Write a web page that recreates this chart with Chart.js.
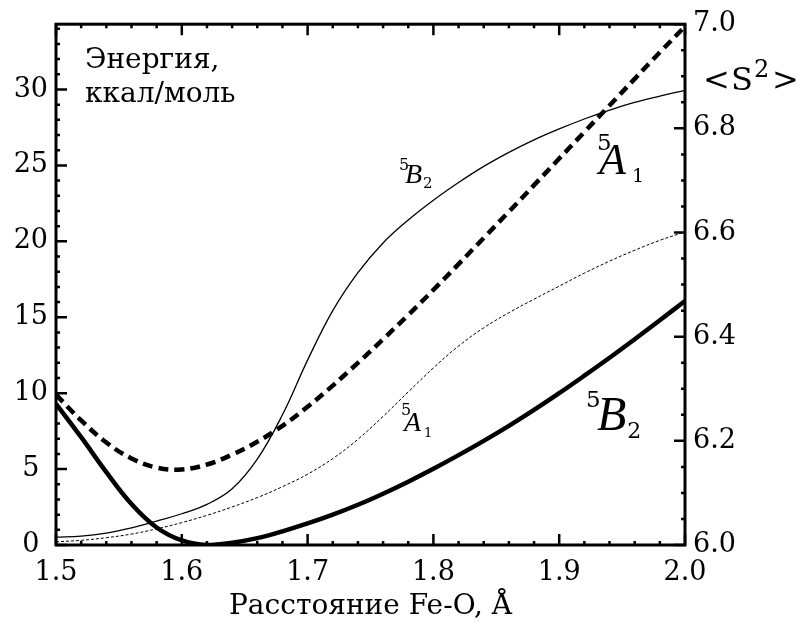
<!DOCTYPE html>
<html>
<head>
<meta charset="utf-8">
<script src="https://cdn.jsdelivr.net/npm/chart.js@4.4.1/dist/chart.umd.min.js"></script>
<style>
  html, body { margin: 0; padding: 0; background: #fff; }
  #wrap { width: 801px; height: 625px; }
</style>
</head>
<body>
<div id="wrap"><canvas id="chart" width="801" height="625"></canvas></div>
<script>
// Расстояние Fe-O, Å
const distance = [1.50, 1.52, 1.54, 1.56, 1.58, 1.60, 1.62, 1.64, 1.66, 1.68, 1.70, 1.72, 1.74,
                  1.76, 1.78, 1.80, 1.82, 1.84, 1.86, 1.88, 1.90, 1.92, 1.94, 1.96, 1.98, 2.00];

// энергия, ккал/моль (левая ось)
const energy5B2 = [9.3, 7.1, 4.8, 2.7, 1.15, 0.3, 0.0, 0.15, 0.45, 0.9, 1.42, 2.0, 2.65,
                   3.38, 4.17, 5.02, 5.92, 6.86, 7.85, 8.9, 10.0, 11.15, 12.33, 13.55, 14.8, 16.07];
const energy5A1 = [9.9, 8.2, 6.75, 5.7, 5.1, 4.98, 5.3, 5.95, 6.8, 7.85, 9.1, 10.5, 12.0,
                   13.55, 15.15, 16.8, 18.5, 20.22, 21.95, 23.7, 25.45, 27.2, 28.95, 30.7, 32.45, 34.15];

// <S^2> (правая ось)
const spin5B2 = [6.015, 6.017, 6.023, 6.033, 6.046, 6.060, 6.078, 6.108, 6.165, 6.250, 6.355, 6.450, 6.523,
                 6.580, 6.624, 6.662, 6.696, 6.727, 6.754, 6.778, 6.799, 6.818, 6.835, 6.850, 6.862, 6.873];
const spin5A1 = [6.006, 6.009, 6.014, 6.021, 6.031, 6.043, 6.057, 6.073, 6.091, 6.112, 6.136, 6.166, 6.203,
                 6.247, 6.294, 6.340, 6.382, 6.417, 6.446, 6.472, 6.497, 6.522, 6.545, 6.566, 6.585, 6.601];

const distTicks = [1.5, 1.6, 1.7, 1.8, 1.9, 2.0];
const energyTicks = [0, 5, 10, 15, 20, 25, 30];
const spinTicks = [6.0, 6.2, 6.4, 6.6, 6.8, 7.0];

const tickFont = { family: 'DejaVu Serif', size: 27 };
const toPoints = ys => distance.map((x, i) => ({ x: x, y: ys[i] }));

// рамка, засечки внутрь и подписи
const framePlugin = {
  id: 'frame',
  afterDatasetsDraw(chart) {
    const ctx = chart.ctx;
    const a = chart.chartArea;
    const sx = chart.scales.x, sE = chart.scales.yE, sS = chart.scales.yS;
    ctx.save();
    ctx.strokeStyle = '#000';
    ctx.lineWidth = 2.5;
    ctx.beginPath();
    for (let i = 0; i <= 25; i++) {
      const px = sx.getPixelForValue(1.5 + i * 0.02);
      const len = i % 5 === 0 ? 11 : 4;
      ctx.moveTo(px, a.bottom); ctx.lineTo(px, a.bottom - len);
      ctx.moveTo(px, a.top); ctx.lineTo(px, a.top + len);
    }
    for (let v = 0; v <= 34; v++) {
      const py = sE.getPixelForValue(v);
      const len = v % 5 === 0 ? 11 : 4;
      ctx.moveTo(a.left, py); ctx.lineTo(a.left + len, py);
    }
    for (let i = 0; i <= 20; i++) {
      const py = sS.getPixelForValue(6 + i * 0.05);
      const len = i % 4 === 0 ? 11 : 4;
      ctx.moveTo(a.right, py); ctx.lineTo(a.right - len, py);
    }
    ctx.stroke();
    ctx.lineWidth = 3;
    ctx.strokeRect(a.left, a.top, a.right - a.left, a.bottom - a.top);

    ctx.fillStyle = '#000';
    ctx.textBaseline = 'alphabetic';
    ctx.textAlign = 'left';
    ctx.font = '28px "DejaVu Serif"';
    ctx.fillText('Энергия,', 85, 68);
    ctx.fillText('ккал/моль', 85, 102);

    // <S²>
    ctx.font = '32px "DejaVu Serif"';
    ctx.fillText('<', 703, 90);
    ctx.fillText('S', 731, 90);
    ctx.font = '24px "DejaVu Serif"';
    ctx.fillText('2', 754, 77);
    ctx.font = '32px "DejaVu Serif"';
    ctx.fillText('>', 772, 90);

    const term = (x5, y5, s5, xL, yL, sL, letter, ys, ss, sub, gap) => {
      ctx.font = s5 + 'px "DejaVu Serif"';
      ctx.fillText('5', x5, y5);
      ctx.font = 'italic ' + sL + 'px "Liberation Serif"';
      ctx.fillText(letter, xL, yL);
      const w = ctx.measureText(letter).width;
      ctx.font = ss + 'px "DejaVu Serif"';
      ctx.fillText(sub, xL + w + gap, ys);
    };
    term(597, 150, 23, 599, 174, 44, 'A', 182, 19, '1', 6);
    term(586, 407, 23, 597, 430, 48, 'B', 438, 22, '2', 1);
    term(399, 170, 16, 405, 183, 28, 'B', 188, 15, '2', 1);
    term(401, 415, 16, 404, 431, 28, 'A', 437, 13, '1', 3);
    ctx.restore();
  }
};

new Chart(document.getElementById('chart').getContext('2d'), {
  type: 'line',
  data: {
    datasets: [
      { label: '5B2 энергия', data: toPoints(energy5B2), yAxisID: 'yE',
        borderColor: '#000', borderWidth: 4.5, pointRadius: 0, tension: 0.4 },
      { label: '5A1 энергия', data: toPoints(energy5A1), yAxisID: 'yE',
        borderColor: '#000', borderWidth: 4.5, borderDash: [10, 6], pointRadius: 0, tension: 0.4 },
      { label: '5B2 <S2>', data: toPoints(spin5B2), yAxisID: 'yS',
        borderColor: '#000', borderWidth: 1.3, pointRadius: 0, tension: 0.4 },
      { label: '5A1 <S2>', data: toPoints(spin5A1), yAxisID: 'yS',
        borderColor: '#000', borderWidth: 1, borderDash: [3, 2], pointRadius: 0, tension: 0.4 }
    ]
  },
  options: {
    responsive: false,
    animation: false,
    layout: { padding: { top: 22, left: 0, right: 0, bottom: 0 } },
    plugins: { legend: { display: false }, tooltip: { enabled: false } },
    scales: {
      x: {
        type: 'linear', position: 'bottom', min: 1.5, max: 2.0,
        grid: { display: false, drawTicks: false }, border: { display: false },
        afterBuildTicks: s => { s.ticks = distTicks.map(v => ({ value: v })); },
        afterFit: s => { s.height = 80; },
        ticks: { font: tickFont, color: '#000', padding: 12, autoSkip: false, maxRotation: 0,
                 callback: v => Number(v).toFixed(1) },
        title: { display: true, text: 'Расстояние Fe-O, Å', color: '#000',
                 font: { family: 'DejaVu Serif', size: 28 }, padding: { top: 0, bottom: 1 } }
      },
      yE: {
        type: 'linear', position: 'left', min: 0, max: 34.3,
        grid: { display: false, drawTicks: false }, border: { display: false },
        afterBuildTicks: s => { s.ticks = energyTicks.map(v => ({ value: v })); },
        afterFit: s => { s.width = 56; },
        ticks: { font: tickFont, color: '#000', padding: 8, crossAlign: 'center' }
      },
      yS: {
        type: 'linear', position: 'right', min: 6.0, max: 7.0,
        grid: { display: false, drawTicks: false }, border: { display: false },
        afterBuildTicks: s => { s.ticks = spinTicks.map(v => ({ value: v })); },
        afterFit: s => { s.width = 116; },
        ticks: { font: tickFont, color: '#000', padding: 8, callback: v => Number(v).toFixed(1) }
      }
    }
  },
  plugins: [framePlugin]
});
</script>
</body>
</html>
